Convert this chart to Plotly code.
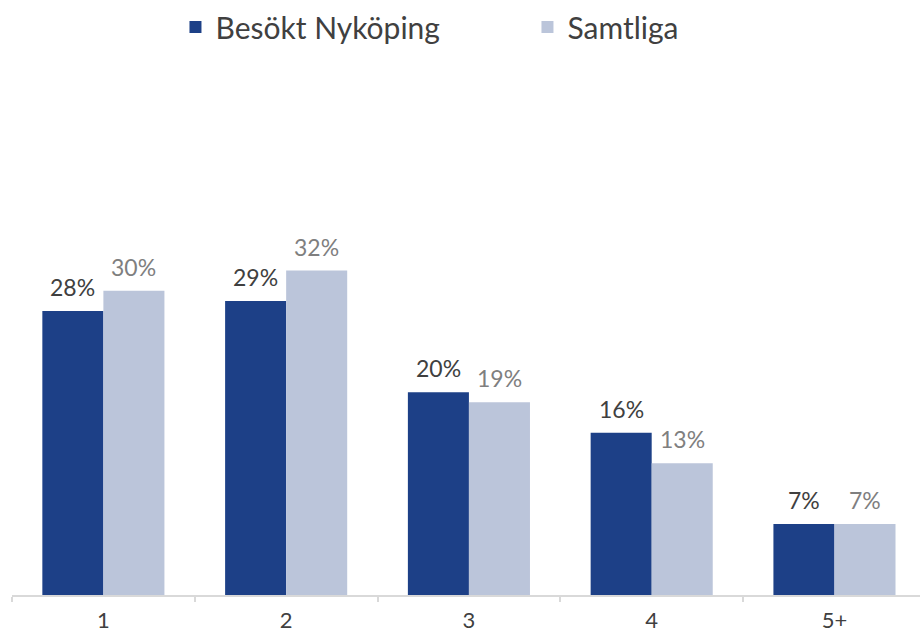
import plotly.graph_objects as go

# Antal besök (kategorier) och andelar per grupp
categories = ["1", "2", "3", "4", "5+"]
besokt_nykoping = [0.28, 0.29, 0.20, 0.16, 0.07]
samtliga = [0.30, 0.32, 0.19, 0.13, 0.07]
series_names = ["Besökt Nyköping", "Samtliga"]

DARK = "#1d4087"
LIGHT = "#bbc5da"
FONT = "Lato"

fig = go.Figure()
fig.add_trace(go.Bar(x=categories, y=besokt_nykoping, name=series_names[0],
                     marker=dict(color=DARK, line=dict(width=0))))
fig.add_trace(go.Bar(x=categories, y=samtliga, name=series_names[1],
                     marker=dict(color=LIGHT, line=dict(width=0))))

# Värdeetiketter ovanför staplarna
half = (1 - 0.332) / 4
annotations = []
for i in range(len(categories)):
    for vals, off, col in ((besokt_nykoping, -half, "#404040"),
                           (samtliga, half, "#7f7f7f")):
        annotations.append(dict(
            x=i + off, y=vals[i], xref="x", yref="y",
            text=f"{round(vals[i] * 100)}%", showarrow=False,
            yanchor="bottom", yshift=8,
            font=dict(family=FONT, size=23, color=col)))

fig.update_layout(
    width=920, height=637,
    margin=dict(l=12, r=0, t=88, b=41.5, autoexpand=False),
    paper_bgcolor="white", plot_bgcolor="white",
    barmode="group", bargap=0.332, bargroupgap=0,
    font=dict(family=FONT, color="#404040"),
    annotations=annotations,
    showlegend=True,
    legend=dict(orientation="h", x=0.5677, xanchor="center",
                y=1 + 87 / 507.5, yanchor="top",
                font=dict(family=FONT, size=30, color="#404040"),
                entrywidth=307, traceorder="normal"),
    xaxis=dict(
        type="category", range=[-0.5, 4.468],
        showline=True, linecolor="#d9d9d9", linewidth=2,
        ticks="outside", tickson="boundaries", ticklen=5,
        tickcolor="#d9d9d9", tickwidth=2,
        tickfont=dict(family=FONT, size=22, color="#404040"),
        ticklabelstandoff=5,
        showgrid=False, zeroline=False, fixedrange=True),
    yaxis=dict(range=[0, 0.5], visible=False, showgrid=False,
               zeroline=False, fixedrange=True),
)

fig.write_html("out.html")
